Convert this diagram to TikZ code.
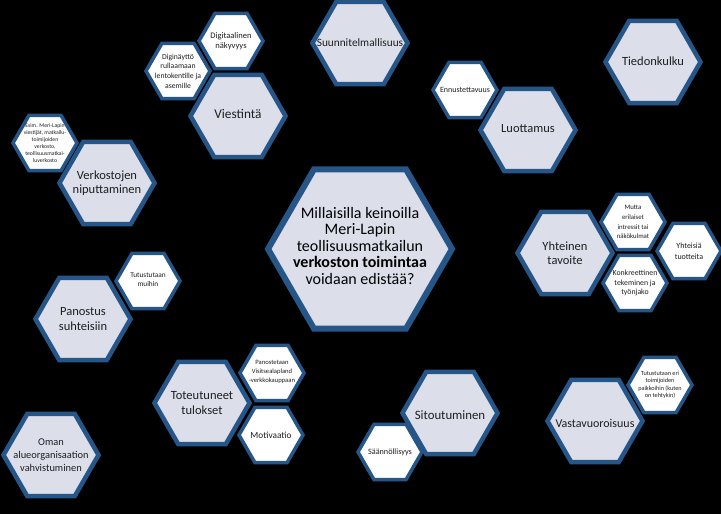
\documentclass[tikz,border=0pt]{standalone}
\usepackage{fontspec}
\setmainfont{Carlito}
\usetikzlibrary{shapes.geometric}
\definecolor{reuna}{RGB}{38,86,136}
\definecolor{pohja}{RGB}{220,223,234}
\definecolor{tumma}{RGB}{30,30,30}
\begin{document}
\begin{tikzpicture}[
        x=1pt, y=-1pt,
        iso/.style={regular polygon, regular polygon sides=6, draw=reuna, fill=pohja, line width=4.5pt, minimum size=95pt, inner sep=0pt},
        pieni/.style={regular polygon, regular polygon sides=6, draw=reuna, fill=white, line width=3.5pt, minimum size=64pt, inner sep=0pt},
        keski/.style={regular polygon, regular polygon sides=6, draw=reuna, fill=pohja, line width=6pt, minimum size=184pt, inner sep=0pt},
        isoteksti/.style={text=tumma, align=center, inner sep=0pt, font=\fontsize{12.5}{14.5}\selectfont},
        pteksti/.style={text=tumma, align=center, inner sep=0pt}
    ]
    \useasboundingbox (0,0) rectangle (721,514);
    \fill[black] (0,0) rectangle (721,514);
    % Keskus: kysymys
    \node[keski] (K) at (360,249) {};
    \node[text=black, align=center, inner sep=0pt, font=\fontsize{16}{16.5}\selectfont] (Kt) at (360,246) {Millaisilla keinoilla\\Meri-Lapin\\teollisuusmatkailun\\\textbf{verkoston toimintaa}\\voidaan edistää?};
    % Suunnitelmallisuus
    \node[iso] (SU) at (360,43) {};
    \node[isoteksti, font=\fontsize{11.3}{13}\selectfont] (SUt) at (360,43) {Suunnitelmallisuus};
    % Viestintä
    \node[iso] (VI) at (238,116) {};
    \node[isoteksti, font=\fontsize{13.3}{15}\selectfont] (VIt) at (238,114) {Viestintä};
    \node[pieni] (DN) at (231,41) {};
    \node[pteksti, font=\fontsize{8.5}{10.5}\selectfont] (DNt) at (231,41) {Digitaalinen\\näkyvyys};
    \node[pieni] (DY) at (178,71) {};
    \node[pteksti, font=\fontsize{7.7}{9.6}\selectfont] (DYt) at (178,71) {Diginäyttö\\rullaamaan\\lentokentille ja\\asemille};
    % Verkostojen niputtaminen
    \node[iso] (VE) at (107,183) {};
    \node[isoteksti] (VEt) at (107,183) {Verkostojen\\niputtaminen};
    \node[pieni] (ES) at (45,143) {};
    \node[pteksti, font=\fontsize{5.7}{7}\selectfont] (ESt) at (45,143) {Esim. Meri-Lapin\\viestijät, matkailu-\\toimijoiden\\verkosto,\\teollisuusmatkai-\\luverkosto};
    % Tiedonkulku
    \node[iso] (TI) at (653,62) {};
    \node[isoteksti] (TIt) at (653,61) {Tiedonkulku};
    % Luottamus
    \node[iso] (LU) at (528,130) {};
    \node[isoteksti] (LUt) at (528,129) {Luottamus};
    \node[pieni] (EN) at (465,90) {};
    \node[pteksti, font=\fontsize{8}{10}\selectfont] (ENt) at (465,90) {Ennustettavuus};
    % Yhteinen tavoite
    \node[iso] (YH) at (565,253) {};
    \node[isoteksti] (YHt) at (565,253) {Yhteinen\\tavoite};
    \node[pieni] (MU) at (633,222) {};
    \node[pteksti, font=\fontsize{6.8}{9.8}\selectfont] (MUt) at (633,222) {Mutta\\erilaiset\\intressit tai\\näkökulmat};
    \node[pieni] (YT) at (689,251) {};
    \node[pteksti, font=\fontsize{8}{10.5}\selectfont] (YTt) at (689,251) {Yhteisiä\\tuotteita};
    \node[pieni] (KO) at (635,283) {};
    \node[pteksti, font=\fontsize{7.8}{9.7}\selectfont] (KOt) at (635,283) {Konkreettinen\\tekeminen ja\\työnjako};
    % Panostus suhteisiin
    \node[iso] (PA) at (83,319) {};
    \node[isoteksti] (PAt) at (83,319) {Panostus\\suhteisiin};
    \node[pieni] (TM) at (148,281) {};
    \node[pteksti, font=\fontsize{7.3}{9}\selectfont] (TMt) at (148,280) {Tutustutaan\\muihin};
    % Toteutuneet tulokset
    \node[iso] (TO) at (202,403) {};
    \node[isoteksti] (TOt) at (202,403) {Toteutuneet\\tulokset};
    \node[pieni] (PV) at (272,373) {};
    \node[pteksti, font=\fontsize{6.6}{8.9}\selectfont] (PVt) at (272,372) {Panostetaan\\Visitsealapland\\-verkkokauppaan};
    \node[pieni] (MO) at (271,435) {};
    \node[pteksti, font=\fontsize{9.3}{11}\selectfont] (MOt) at (271,435) {Motivaatio};
    % Oman alueorganisaation vahvistuminen
    \node[iso] (OM) at (51,455) {};
    \node[isoteksti, font=\fontsize{10.4}{13.3}\selectfont] (OMt) at (51,455) {Oman\\alueorganisaation\\vahvistuminen};
    % Sitoutuminen
    \node[iso] (SI) at (450,413) {};
    \node[isoteksti, font=\fontsize{12.8}{15}\selectfont] (SIt) at (450,415) {Sitoutuminen};
    \node[pieni] (SA) at (390,452) {};
    \node[pteksti, font=\fontsize{8.2}{10}\selectfont] (SAt) at (390,452) {Säännöllisyys};
    % Vastavuoroisuus
    \node[iso] (VA) at (595,421) {};
    \node[isoteksti, font=\fontsize{12}{14}\selectfont] (VAt) at (595,423) {Vastavuoroisuus};
    \node[pieni] (TE) at (660,385) {};
    \node[pteksti, font=\fontsize{6.2}{7.4}\selectfont] (TEt) at (660,385) {Tutustutaan eri\\toimijoiden\\paikkoihin (kuten\\on tehtykin)};
\end{tikzpicture}
\end{document}
